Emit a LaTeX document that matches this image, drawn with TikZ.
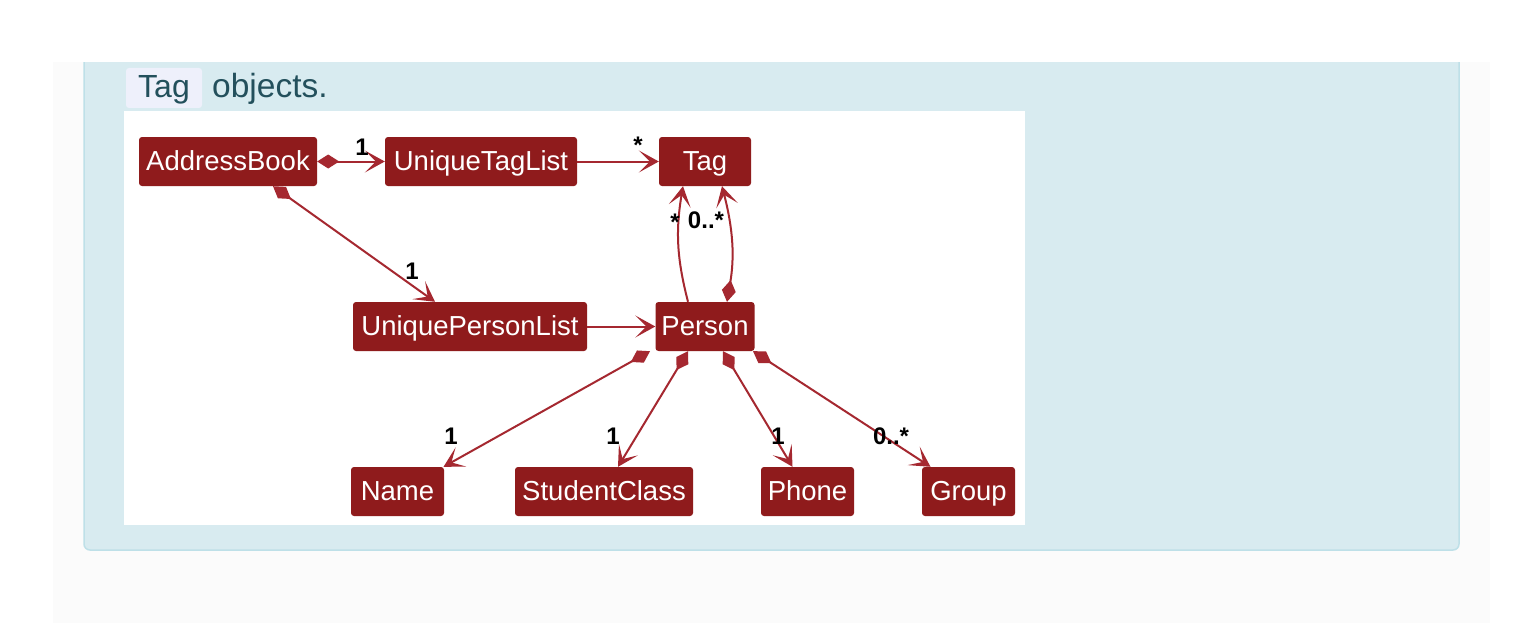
\documentclass[tikz,border=0pt]{standalone}
\usepackage{fontspec}
\setmainfont{Liberation Sans}
\usetikzlibrary{arrows.meta}
\definecolor{pagegray}{RGB}{251,251,251}
\definecolor{notefill}{RGB}{216,235,240}
\definecolor{noteline}{RGB}{190,224,232}
\definecolor{notetext}{RGB}{35,80,92}
\definecolor{codefill}{RGB}{238,240,251}
\definecolor{nodered}{RGB}{143,27,28}
\definecolor{edgered}{RGB}{165,40,48}

\begin{document}
\begin{tikzpicture}[x=1pt,y=1pt,yscale=-1,xscale=1,
  cls/.style={fill=nodered, text=white, rounded corners=3pt, minimum height=49pt, inner xsep=0pt, text height=21pt, text depth=4pt, font=\fontsize{27.5}{30}\selectfont},
  assoc/.style={draw=edgered, line width=2pt, -{Stealth[length=20pt,width=22pt,inset=11pt]}},
  comp/.style={assoc, {Diamond[length=22pt,width=14pt]}-{Stealth[length=20pt,width=22pt,inset=11pt]}},
  mult/.style={font=\bfseries\fontsize{24}{26}\selectfont, inner sep=0pt, anchor=base}]
%set diagram left start at 0, and has height of 623
\useasboundingbox (0,0) rectangle (1530,623);

%Shape: Rectangle [page]
\fill [pagegray] (53,62) rectangle (1490,623);
%Shape: Rectangle [note box]
\draw [fill=notefill, draw=noteline, line width=1.5pt, rounded corners=6pt] (84,40) -- (84,550) -- (1459,550) -- (1459,40);
\fill [notefill] (85,40) rectangle (1458,62);
\fill [white] (0,0) rectangle (1530,62);
%Shape: Rectangle [code span]
\fill [codefill, rounded corners=3pt] (126,68) rectangle (202,108);
% Text Node
\node (tagcode) [anchor=base west, inner sep=0pt, text=notetext, font=\fontsize{32}{34}\selectfont] at (138,98) {Tag};
% Text Node
\node (objects) [anchor=base west, inner sep=0pt, text=notetext, font=\fontsize{33.5}{36}\selectfont] at (212,98) {objects.};
%Shape: Rectangle [picture]
\fill [white] (124,111) rectangle (1025,525);

% Class Nodes
\node (addressbook) [cls, minimum width=178pt] at (228,161.5) {AddressBook};
\node (uniquetaglist) [cls, minimum width=192pt] at (481,161.5) {UniqueTagList};
\node (tag) [cls, minimum width=92pt] at (705,161.5) {Tag};
\node (uniquepersonlist) [cls, minimum width=234pt] at (470,326.5) {UniquePersonList};
\node (person) [cls, minimum width=99pt] at (705,326.5) {Person};
\node (name) [cls, minimum width=93pt] at (397.5,491.5) {Name};
\node (studentclass) [cls, minimum width=178pt] at (604,491.5) {StudentClass};
\node (phone) [cls, minimum width=93pt] at (807.5,491.5) {Phone};
\node (group) [cls, minimum width=93pt] at (968.5,491.5) {Group};

% Connectors
\draw [comp] (addressbook.east) -- (uniquetaglist.west);
\draw [assoc] (uniquetaglist.east) -- (tag.west);
\draw [comp] ([xshift=45pt]addressbook.south) -- ([xshift=-35pt]uniquepersonlist.north);
\draw [assoc] (uniquepersonlist.east) -- (person.west);
\draw [assoc] ([xshift=-17pt]person.north) to [bend right=12] ([xshift=-22pt]tag.south);
\draw [comp] ([xshift=22pt]person.north) to [bend left=12] ([xshift=17pt]tag.south);
\draw [comp] ([xshift=-55pt]person.south) -- ([xshift=46pt]name.north);
\draw [comp] ([xshift=-17pt]person.south) -- ([xshift=14pt]studentclass.north);
\draw [comp] ([xshift=18pt]person.south) -- ([xshift=-15pt]phone.north);
\draw [comp] ([xshift=48pt]person.south) -- ([xshift=-38pt]group.north);

% Multiplicity Labels
\node (m1) [mult] at (362,155) {1};
\node (m2) [mult] at (638,153) {*};
\node (m3) [mult] at (412,279) {1};
\node (m4) [mult] at (675,230) {*};
\node (m5) [mult] at (706,228) {0..*};
\node (m6) [mult] at (451,444) {1};
\node (m7) [mult] at (613,444) {1};
\node (m8) [mult] at (778,444) {1};
\node (m9) [mult] at (891,444) {0..*};

\end{tikzpicture}
\end{document}
